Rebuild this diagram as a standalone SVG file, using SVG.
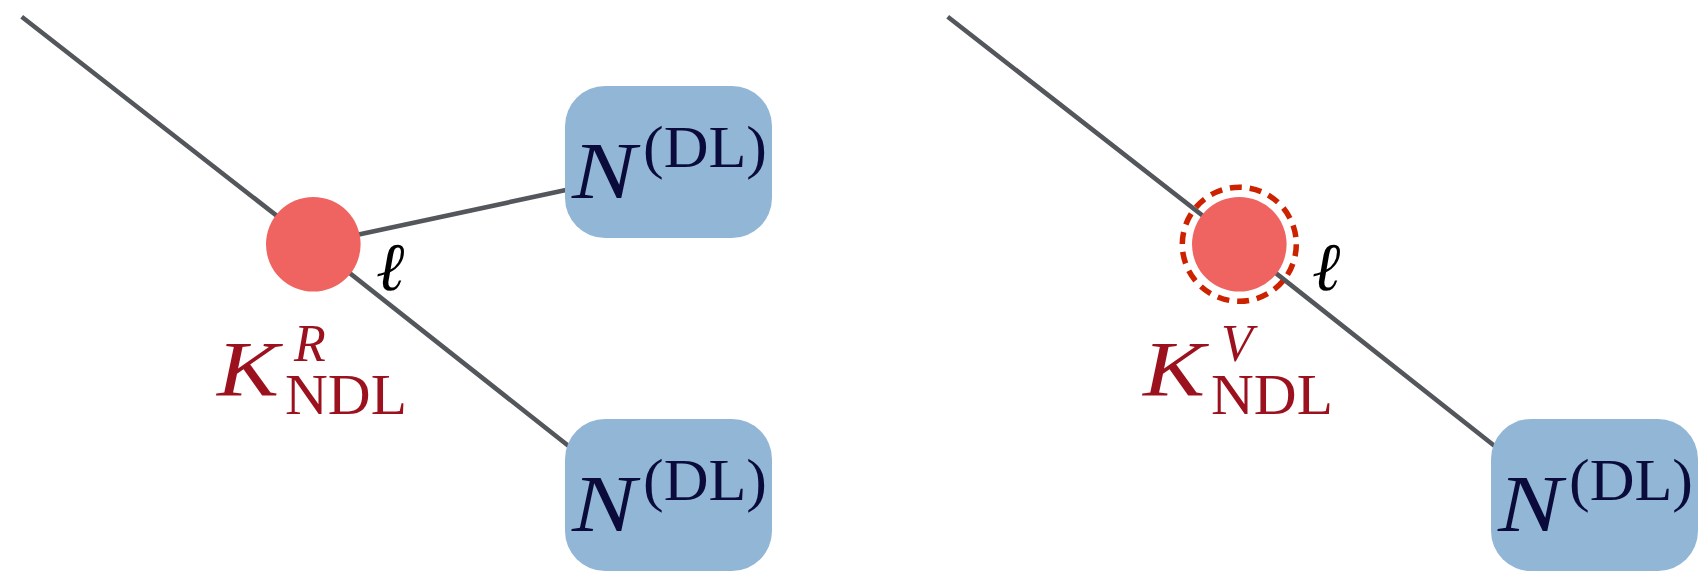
<svg xmlns="http://www.w3.org/2000/svg" width="1702" height="571" viewBox="0 0 1702 571">
<style>
.edge{stroke:#53575c;stroke-width:4.6;fill:none;stroke-linecap:butt}
.vtx{fill:#ef6461}
.ring{fill:none;stroke:#cc2200;stroke-width:5.5;stroke-dasharray:12 7.9}
.box{fill:#92b6d6}
.nt{font-family:"Liberation Serif",serif;fill:#0b0b3b}
.kt{font-family:"Liberation Serif",serif;fill:#9b111e}
.el{font-family:"Liberation Serif",serif;fill:#000;font-style:italic}
.it{font-style:italic}
</style>
<g id="connectors">
<polyline class="edge" points="21.7,16.7 313.3,244.3 580,455"/>
<line class="edge" x1="313.3" y1="244.3" x2="580" y2="187"/>
<polyline class="edge" points="947.7,16.7 1239.3,244.3 1506,455"/>
</g>
<g id="vertex-left">
<circle class="vtx" cx="313.3" cy="244.3" r="47.3"/>
</g>
<g id="vertex-right">
<circle class="vtx" cx="1239.3" cy="244.3" r="47.3"/>
<circle class="ring" cx="1239.3" cy="244.3" r="57"/>
</g>
<g id="box-left-top">
<rect class="box" x="565" y="86" width="207" height="152" rx="40" ry="40"/>
<text class="nt it" x="572" y="198" font-size="80" textLength="64" lengthAdjust="spacingAndGlyphs">N</text>
<text class="nt" x="643" y="167" font-size="60" textLength="124" lengthAdjust="spacingAndGlyphs">(DL)</text>
</g>
<g id="box-left-bottom">
<rect class="box" x="565" y="419" width="207" height="152" rx="40" ry="40"/>
<text class="nt it" x="572" y="531" font-size="80" textLength="64" lengthAdjust="spacingAndGlyphs">N</text>
<text class="nt" x="643" y="500" font-size="60" textLength="124" lengthAdjust="spacingAndGlyphs">(DL)</text>
</g>
<g id="box-right-bottom">
<rect class="box" x="1491" y="419" width="207" height="152" rx="40" ry="40"/>
<text class="nt it" x="1498" y="531" font-size="80" textLength="64" lengthAdjust="spacingAndGlyphs">N</text>
<text class="nt" x="1569" y="500" font-size="60" textLength="124" lengthAdjust="spacingAndGlyphs">(DL)</text>
</g>
<g id="label-left">
<text class="el" x="376" y="290" font-size="68">ℓ</text>
<text class="kt it" x="217" y="395" font-size="78" textLength="62" lengthAdjust="spacingAndGlyphs">K</text>
<text class="kt it" x="294" y="361" font-size="52">R</text>
<text class="kt" x="285" y="414" font-size="56" textLength="122" lengthAdjust="spacingAndGlyphs">NDL</text>
</g>
<g id="label-right">
<text class="el" x="1312" y="290" font-size="68">ℓ</text>
<text class="kt it" x="1143" y="395" font-size="78" textLength="62" lengthAdjust="spacingAndGlyphs">K</text>
<text class="kt it" x="1221" y="361" font-size="52">V</text>
<text class="kt" x="1211" y="414" font-size="56" textLength="122" lengthAdjust="spacingAndGlyphs">NDL</text>
</g>
</svg>
